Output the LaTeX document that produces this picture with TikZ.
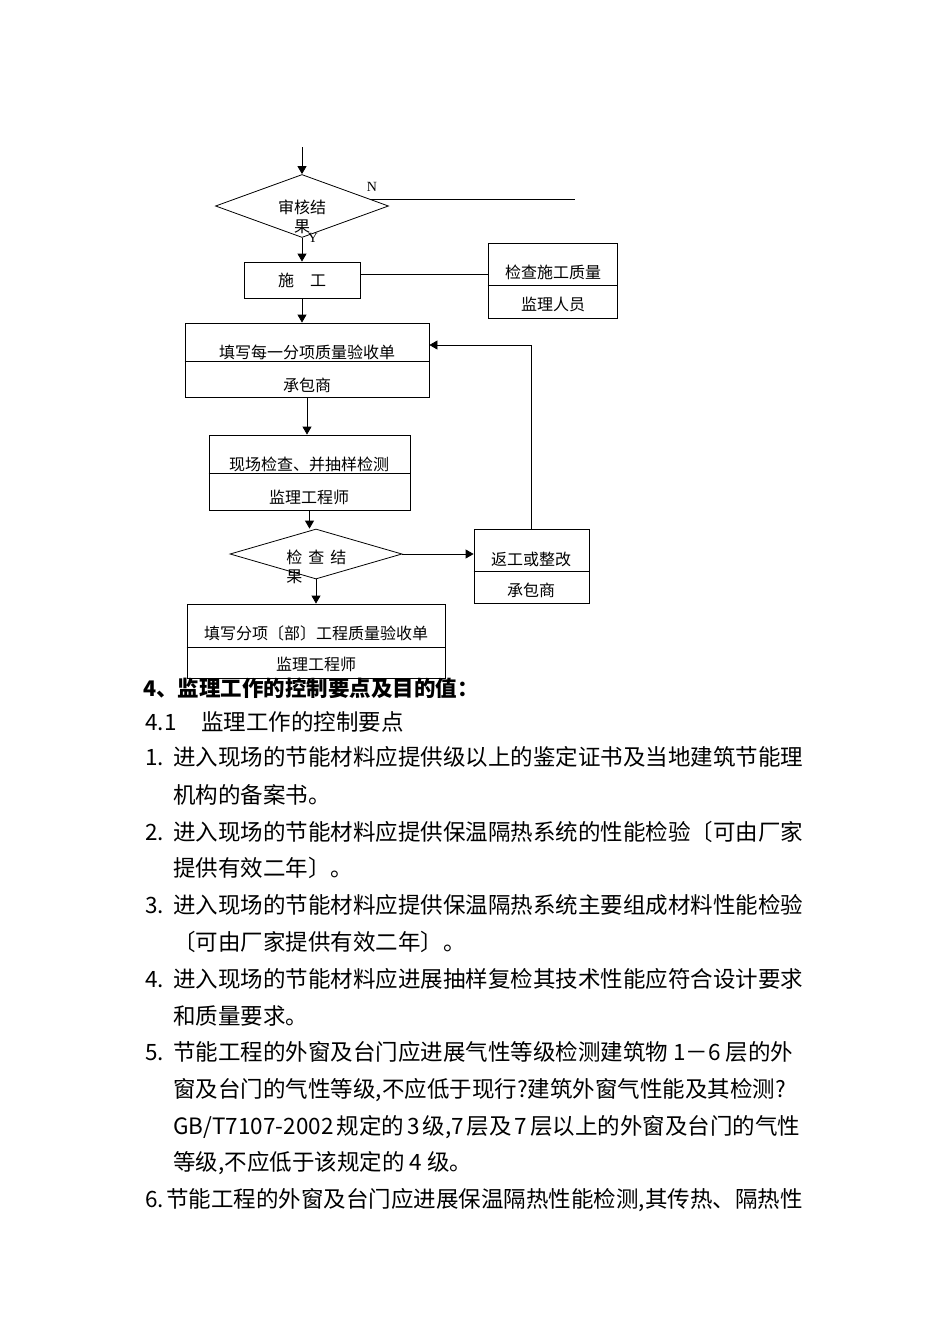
\documentclass[tikz,border=0pt]{standalone}
\usepackage{fontspec}
\setmainfont{Noto Sans CJK SC}
\newfontfamily\yn{Liberation Serif}
\usetikzlibrary{shapes.geometric,arrows.meta}

\begin{document}
\begin{tikzpicture}[x=1pt, y=-1pt, line width=0.8pt, >={Triangle[length=8pt,width=9pt]},
  font=\fontsize{16}{19}\selectfont,
  box/.style={draw, inner sep=0pt},
  decide/.style={draw, diamond, inner sep=0pt},
  txt/.style={inner sep=0pt},
  yn/.style={inner sep=0pt, font=\yn\fontsize{14}{14}\selectfont},
  line/.style={inner sep=0pt, anchor=west, font=\fontsize{22.5}{26}\selectfont}]
\useasboundingbox (0,0) rectangle (950,1344);

\coordinate (top) at (302,147);
\node[decide, minimum width=173, minimum height=63] (rev) at (302,206) {};
\node[txt, align=center] (revt) at (302,217) {审核结\\果};
\coordinate (nout) at (575,199);
\node[yn] (no) at (372,187) {N};
\node[yn] (yes) at (313,238) {Y};
\node[box, minimum width=116, minimum height=36] (work) at (302,280) {施\hspace{1em}工};
\node[box, minimum width=129, minimum height=75] (patrol) at (552.5,280.5) {};
\node[txt] (patrolt) at (553,272) {检查施工质量};
\node[txt] (patrols) at (553,304) {监理人员};
\node[box, minimum width=244, minimum height=74] (form) at (307,360) {};
\node[txt] (formt) at (307,352) {填写每一分项质量验收单};
\node[txt] (forms) at (307,385) {承包商};
\node[box, minimum width=201, minimum height=75] (site) at (309.5,472.5) {};
\node[txt] (sitet) at (309,464) {现场检查、并抽样检测};
\node[txt] (sites) at (309,497) {监理工程师};
\node[decide, minimum width=172, minimum height=50] (test) at (316,554) {};
\node[txt, align=left, anchor=west] (testt) at (286,567) {检\hspace{6pt}查\hspace{6pt}结\\果};
\node[box, minimum width=115, minimum height=74] (redo) at (531.5,566) {};
\node[txt] (redot) at (531,559) {返工或整改};
\node[txt] (redos) at (531,590) {承包商};
\node[box, minimum width=258, minimum height=74] (final) at (316,641) {};
\node[txt] (finalt) at (316,633) {填写分项〔部〕工程质量验收单};
\node[txt] (finals) at (316,664) {监理工程师};

\draw (patrol.west |- 0,285) -- (patrol.east |- 0,285);
\draw (form.west |- 0,361) -- (form.east |- 0,361);
\draw (site.west |- 0,473) -- (site.east |- 0,473);
\draw (redo.west |- 0,571) -- (redo.east |- 0,571);
\draw (final.west |- 0,647) -- (final.east |- 0,647);

\draw[->] (top) -- (rev.north);
\draw (rev.6) -- (nout |- rev.6);
\draw[->] (rev.south) -- (work.north);
\draw ([yshift=6pt]work.east) -- ([yshift=6pt]work.east -| patrol.west);
\draw[->] (work.south) -- (work.south |- form.north);
\draw[->] (form.south) -- (form.south |- site.north);
\draw[->] (site.south) -- (site.south |- test.north);
\draw[->] (test.east) -- (test.east -| redo.west);
\draw[->] (redo.north) |- ([yshift=15pt]form.east);
\draw[->] (test.south) -- (test.south |- final.north);

\node[line, font=\bfseries\fontsize{21.5}{26}\selectfont] (head) at (143,688) {4、监理工作的控制要点及目的值：};
\node[line] (sub) at (145,722) {\makebox[56pt][l]{4.1}监理工作的控制要点};
\node[line] (l1) at (145,757) {\makebox[28pt][l]{1.}进入现场的节能材料应提供级以上的鉴定证书及当地建筑节能理};
\node[line] (l2) at (173,795) {机构的备案书。};
\node[line] (l3) at (145,832) {\makebox[28pt][l]{2.}进入现场的节能材料应提供保温隔热系统的性能检验〔可由厂家};
\node[line] (l4) at (173,868) {提供有效二年〕。};
\node[line] (l5) at (145,905) {\makebox[28pt][l]{3.}进入现场的节能材料应提供保温隔热系统主要组成材料性能检验};
\node[line] (l6) at (173,942) {〔可由厂家提供有效二年〕。};
\node[line] (l7) at (145,979) {\makebox[28pt][l]{4.}进入现场的节能材料应进展抽样复检其技术性能应符合设计要求};
\node[line] (l8) at (173,1016) {和质量要求。};
\node[line] (l9) at (145,1052) {\makebox[28pt][l]{5.}节能工程的外窗及台门应进展气性等级检测建筑物 1－6 层的外};
\node[line] (l10) at (173,1090) {窗及台门的气性等级,不应低于现行?建筑外窗气性能及其检测?};
\node[line] (l11) at (173,1127) {GB/T7107-2002\hspace{3pt}规定的\hspace{3pt}3\hspace{3pt}级,7\hspace{3pt}层及\hspace{3pt}7\hspace{3pt}层以上的外窗及台门的气性};
\node[line] (l12) at (173,1163) {等级,不应低于该规定的 4 级。};
\node[line] (l13) at (145,1200) {\makebox[21pt][l]{6.}节能工程的外窗及台门应进展保温隔热性能检测,其传热、隔热性};
\end{tikzpicture}
\end{document}
